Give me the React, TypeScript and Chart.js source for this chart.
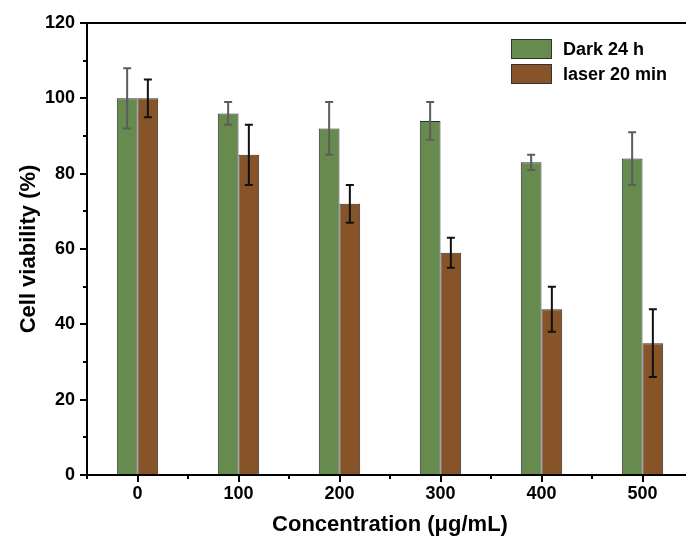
import React, { useEffect, useRef } from 'react';
import { Chart, registerables } from 'chart.js';

Chart.register(...registerables);

const categories = ['0', '100', '200', '300', '400', '500'];
const darkValues = [100, 96, 92, 94, 83, 84];
const darkErrors = [8, 3, 7, 5, 2, 7];
const laserValues = [100, 85, 72, 59, 44, 35];
const laserErrors = [5, 8, 5, 4, 6, 9];
const seriesLabels = ['Dark 24 h', 'laser 20 min'];
const seriesColors = ['#678a4f', '#875329'];
const errorColors = ['#5c5c5c', '#111111'];
const yMin = 0;
const yMax = 120;
const yStep = 20;
const yMinorStep = 10;
const xTitle = 'Concentration (\u03bcg/mL)';
const yTitle = 'Cell viability (%)';

const FONT = '"Liberation Sans", Arial, Helvetica, sans-serif';

const errorBarPlugin = {
  id: 'errorBars',
  afterDatasetsDraw(chart: any) {
    const ctx = chart.ctx;
    const yScale = chart.scales.y;
    const allErrors = [darkErrors, laserErrors];
    chart.data.datasets.forEach((ds: any, i: number) => {
      const meta = chart.getDatasetMeta(i);
      const errs = allErrors[i];
      meta.data.forEach((el: any, j: number) => {
        const v = ds.data[j];
        const e = errs[j];
        const x = el.x;
        const yt = yScale.getPixelForValue(v + e);
        const yb = yScale.getPixelForValue(v - e);
        ctx.save();
        ctx.strokeStyle = errorColors[i];
        ctx.lineWidth = 2;
        ctx.beginPath();
        ctx.moveTo(x, yt);
        ctx.lineTo(x, yb);
        ctx.moveTo(x - 4, yt);
        ctx.lineTo(x + 4, yt);
        ctx.moveTo(x - 4, yb);
        ctx.lineTo(x + 4, yb);
        ctx.stroke();
        ctx.restore();
      });
    });
  },
};

const framePlugin = {
  id: 'frame',
  afterDraw(chart: any) {
    const ctx = chart.ctx;
    const { left, right, top, bottom } = chart.chartArea;
    const yScale = chart.scales.y;
    const xScale = chart.scales.x;
    ctx.save();
    ctx.strokeStyle = '#000';
    ctx.lineWidth = 2;
    ctx.beginPath();
    ctx.rect(left, top, right - left, bottom - top);
    ctx.stroke();
    // y ticks
    ctx.beginPath();
    for (let v = yMin; v <= yMax; v += yMinorStep) {
      const y = Math.round(yScale.getPixelForValue(v));
      const len = v % yStep === 0 ? 7 : 4;
      ctx.moveTo(left - len, y);
      ctx.lineTo(left, y);
    }
    // x ticks
    for (let i = 0; i < categories.length; i++) {
      const x = Math.round(xScale.getPixelForValue(i));
      ctx.moveTo(x, bottom);
      ctx.lineTo(x, bottom + 7);
      const xb = Math.round(xScale.getPixelForValue(i - 0.5));
      ctx.moveTo(xb, bottom);
      ctx.lineTo(xb, bottom + 4);
    }
    ctx.stroke();
    // legend
    const bx = right - 182;
    const by = top + 16;
    ctx.font = 'bold 18px ' + FONT;
    ctx.textBaseline = 'middle';
    ctx.textAlign = 'left';
    seriesLabels.forEach((lab, i) => {
      const y0 = by + i * 25;
      ctx.fillStyle = seriesColors[i];
      ctx.fillRect(bx, y0, 41, 20);
      ctx.lineWidth = 1;
      ctx.strokeStyle = '#333';
      ctx.strokeRect(bx + 0.5, y0 + 0.5, 40, 19);
      ctx.fillStyle = '#000';
      ctx.fillText(lab, bx + 52, y0 + 11);
    });
    ctx.restore();
  },
};

export default function App() {
  const ref = useRef<HTMLCanvasElement | null>(null);
  useEffect(() => {
    if (!ref.current) return;
    const chart = new Chart(ref.current, {
      type: 'bar',
      data: {
        labels: categories,
        datasets: [
          {
            label: seriesLabels[0],
            data: darkValues,
            backgroundColor: seriesColors[0],
            borderColor: '#2e2e2e',
            borderWidth: 1,
            categoryPercentage: 0.41,
            barPercentage: 1,
          },
          {
            label: seriesLabels[1],
            data: laserValues,
            backgroundColor: seriesColors[1],
            borderColor: '#2e2e2e',
            borderWidth: 1,
            categoryPercentage: 0.41,
            barPercentage: 1,
          },
        ],
      },
      options: {
        responsive: false,
        animation: false,
        layout: { padding: { top: 23, right: 7, left: 0, bottom: 0 } },
        plugins: {
          legend: { display: false },
          tooltip: { enabled: false },
        },
        scales: {
          x: {
            grid: { display: false, drawTicks: false },
            border: { display: false },
            ticks: {
              color: '#000',
              font: { family: FONT, size: 18, weight: 'bold' },
              padding: 8,
            },
            title: {
              display: true,
              text: xTitle,
              color: '#000',
              font: { family: FONT, size: 22, weight: 'bold' },
              padding: { top: 0, bottom: 0 },
            },
            afterFit(scale: any) {
              scale.height = 63;
            },
          },
          y: {
            min: yMin,
            max: yMax,
            grid: { display: false, drawTicks: false },
            border: { display: false },
            ticks: {
              stepSize: yStep,
              color: '#000',
              font: { family: FONT, size: 18, weight: 'bold' },
              padding: 12,
            },
            title: {
              display: true,
              text: yTitle,
              color: '#000',
              font: { family: FONT, size: 22, weight: 'bold' },
              padding: { top: 16, bottom: 0 },
            },
            afterFit(scale: any) {
              scale.width = 87;
            },
          },
        },
      },
      plugins: [errorBarPlugin, framePlugin],
    } as any);
    return () => chart.destroy();
  }, []);
  return (
    <div style={{ position: 'fixed', left: 0, top: 0, width: 686, height: 538, overflow: 'hidden', background: '#fff' }}>
      <canvas ref={ref} width={700} height={538} style={{ display: 'block' }} />
    </div>
  );
}
